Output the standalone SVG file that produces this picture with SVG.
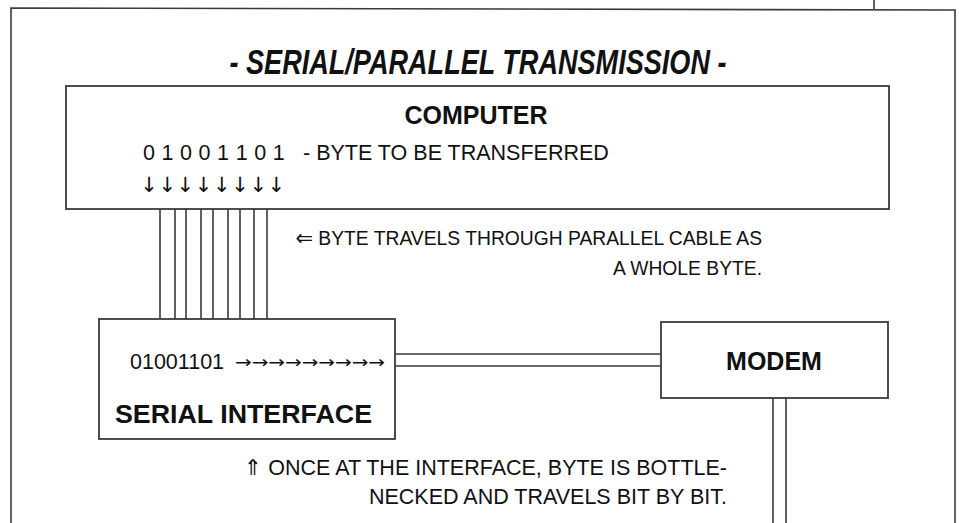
<svg xmlns="http://www.w3.org/2000/svg" width="959" height="523" viewBox="0 0 959 523">
<style>
.ln{stroke:#3a3a3a;stroke-width:1.6;fill:none}
.bx{stroke:#3a3a3a;stroke-width:1.8;fill:#fff}
.t{font-family:"Liberation Sans",Arial,sans-serif;font-size:21.5px;fill:#111}
.n{font-family:"Liberation Sans",Arial,sans-serif;font-size:19.3px;fill:#111}
.ar{font-family:"DejaVu Sans",sans-serif;fill:#111}
.b{font-family:"Liberation Sans",Arial,sans-serif;font-size:25px;font-weight:bold;fill:#111}
.ttl{font-family:"Liberation Sans",Arial,sans-serif;font-size:35px;font-weight:bold;font-style:italic;fill:#111}
</style>
<rect width="959" height="523" fill="#fff"/>
<g id="frame">
<path class="ln" d="M11,523 L11,8 L955,10 L955,523"/>
<path class="ln" d="M874,0 L874,9"/>
<text class="ttl" x="478" y="74" text-anchor="middle" textLength="497" lengthAdjust="spacingAndGlyphs">- SERIAL/PARALLEL TRANSMISSION -</text>
</g>
<g id="connectors">
<path class="ln" d="M160,209V319M175,209V319M186,209V319M201,209V319M213,209V319M228,209V319M240,209V319M254,209V319M267,209V319"/>
<path class="ln" d="M395,354H661M395,366H661"/>
<path class="ln" d="M773,398V523M786,398V523"/>
</g>
<g id="computer">
<rect class="bx" x="66" y="86" width="823" height="123"/>
<text class="b" x="476" y="124" text-anchor="middle">COMPUTER</text>
<text class="t" x="143" y="160" letter-spacing="0.3">0 1 0 0 1 1 0 1</text>
<text class="t" x="303" y="160">- BYTE TO BE TRANSFERRED</text>
<text class="ar" font-size="21" text-anchor="middle" x="149 167.2 185.4 203.6 221.8 240 258.2 276.4" y="192">↓↓↓↓↓↓↓↓</text>
</g>
<g id="serial-interface">
<rect class="bx" x="99" y="319" width="296" height="120"/>
<text class="t" x="130" y="369" font-size="19.5">01001101</text>
<text class="ar" x="235" y="368" font-size="17" textLength="150" lengthAdjust="spacingAndGlyphs">→→→→→→→→→</text>
<text class="b" x="115" y="423" textLength="257" lengthAdjust="spacingAndGlyphs">SERIAL INTERFACE</text>
</g>
<g id="modem">
<rect class="bx" x="661" y="322" width="227" height="76"/>
<text class="b" x="774" y="370" text-anchor="middle">MODEM</text>
</g>
<g id="notes">
<text class="n" x="762" y="245" text-anchor="end"><tspan class="ar" font-size="21">⇐</tspan> BYTE TRAVELS THROUGH PARALLEL CABLE AS</text>
<text class="n" x="762" y="275" text-anchor="end">A WHOLE BYTE.</text>
<text class="t" x="727" y="475" text-anchor="end"><tspan class="ar" font-size="22">⇑</tspan> ONCE AT THE INTERFACE, BYTE IS BOTTLE-</text>
<text class="t" x="727" y="504" text-anchor="end">NECKED AND TRAVELS BIT BY BIT.</text>
</g>
</svg>
